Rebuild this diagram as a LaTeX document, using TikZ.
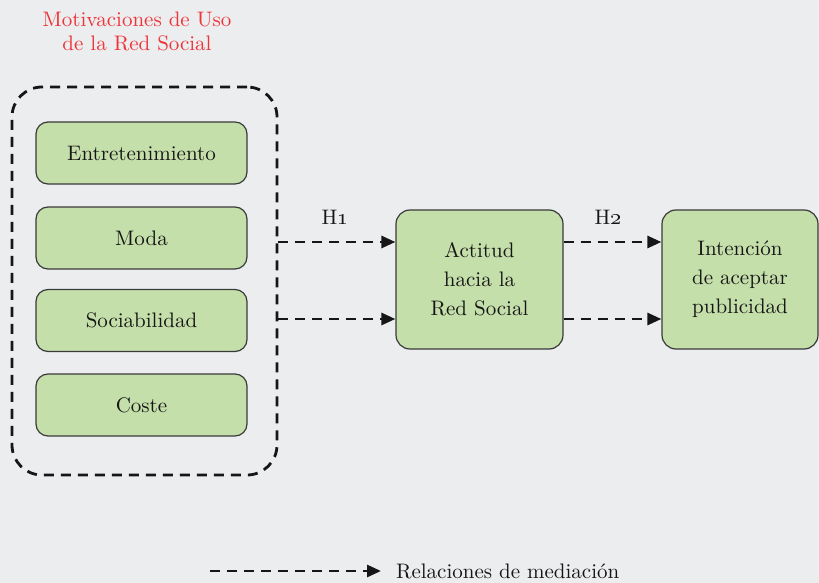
\documentclass[tikz,border=0pt]{standalone}
\usetikzlibrary{arrows.meta}
\definecolor{bgc}{HTML}{ECEDEF}
\definecolor{boxfill}{HTML}{C5DFAB}
\definecolor{boxline}{HTML}{3A3A3A}
\definecolor{titlered}{HTML}{EC3439}
\definecolor{ink}{HTML}{161616}
\begin{document}
\begin{tikzpicture}[x=0.5pt,y=-0.5pt,
  font=\fontsize{10.5}{13}\selectfont, text=ink,
  factor/.style={draw=boxline, line width=0.6pt, fill=boxfill, rounded corners=6pt,
    minimum width=105.5pt, minimum height=31pt, inner sep=0pt},
  bigbox/.style={draw=boxline, line width=0.6pt, fill=boxfill, rounded corners=7pt,
    minimum height=69.5pt, inner sep=0pt, align=center,
    font=\fontsize{10.5}{14.5}\selectfont},
  group/.style={draw=ink, line width=1.4pt, dash pattern=on 5pt off 3.5pt,
    rounded corners=15pt, minimum width=132.5pt, minimum height=194pt, inner sep=0pt},
  med/.style={draw=ink, line width=1.4pt, dash pattern=on 5pt off 3.5pt,
    -{Triangle[length=7pt,width=6pt]}}]
  \fill[bgc] (0,0) rectangle (819,583);
  \useasboundingbox (0,0) rectangle (819,583);

  % title of the group of motivations
  \node[text=titlered, align=center, font=\fontsize{10.5}{12}\selectfont]
    (title) at (137,31) {Motivaciones de Uso\\de la Red Social};

  % dashed group with the four motivations
  \node[group] (grp) at (144.5,281) {};
  \node[factor] (ent) at (141.5,153) {Entretenimiento};
  \node[factor] (mod) at (141.5,238) {Moda};
  \node[factor] (soc) at (141.5,320.5) {Sociabilidad};
  \node[factor] (cos) at (141.5,405) {Coste};

  % attitude and intention
  \node[bigbox, minimum width=83.5pt] (act) at (479.5,279.5) {Actitud\\hacia la\\Red Social};
  \node[bigbox, minimum width=78pt] (int) at (740,279.5) {Intención\\de aceptar\\publicidad};

  % mediation arrows
  \coordinate (aup) at ([yshift=18.75pt]act.west);
  \coordinate (alo) at ([yshift=-19.75pt]act.west);
  \draw[med] (grp.east |- aup) -- (aup);
  \draw[med] (grp.east |- alo) -- (alo);
  \draw[med] ([yshift=18.75pt]act.east) -- ([yshift=18.75pt]int.west);
  \draw[med] ([yshift=-19.75pt]act.east) -- ([yshift=-19.75pt]int.west);

  \node (h1) at (335,217) {H\oldstylenums{1}};
  \node (h2) at (608,217) {H\oldstylenums{2}};

  % legend
  \coordinate (lgs) at (210,571);
  \node[anchor=west] (lgt) at (389,571) {Relaciones de mediación};
  \coordinate (lge) at (381,571);
  \draw[med] (lgs) -- (lge);
\end{tikzpicture}
\end{document}
